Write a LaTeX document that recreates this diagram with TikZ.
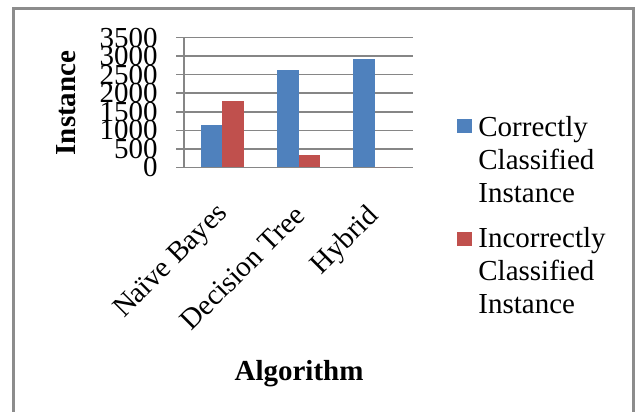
\documentclass[tikz,border=0pt]{standalone}
\usepackage{fontspec}
\setmainfont{Liberation Serif}
\usepackage{tikz}
\usetikzlibrary{positioning, calc}
\definecolor{barblue}{RGB}{79,129,189}
\definecolor{barred}{RGB}{192,80,77}
\definecolor{gridgray}{RGB}{134,134,134}
\definecolor{framegray}{RGB}{140,140,140}

\begin{document}
\begin{tikzpicture}
    [
        x=0.5pt, y=-0.5pt,
        every node/.style={inner sep=0pt, font=\fontsize{14.5}{16.5}\selectfont},
        grid_line/.style={draw=gridgray, line width=0.75pt},
        frame_line/.style={draw=framegray, line width=1.5pt},
        tick_label/.style={anchor=east},
        cat_label/.style={anchor=east, rotate=45},
        title_label/.style={font=\fontsize{14.5}{16.5}\selectfont\bfseries},
        blue_bar/.style={fill=barblue},
        red_bar/.style={fill=barred},
        legend_text/.style={anchor=base west, align=left},
    ]
  \useasboundingbox (0,0) rectangle (638,412);

  \draw[frame_line] (13.5,412) -- (13.5,8) -- (633,8) -- (633,412);

  \foreach \v [count=\i] in {0,500,...,3500} {
    \draw[grid_line] (176,{167.3-\v*0.03703}) -- (413,{167.3-\v*0.03703});
    \node[tick_label] (tick\i) at (158,{167.3-\v*0.03703}) {\v};
  }
  \draw[grid_line] (184,37.7) -- (184,167.3);

  \foreach \c/\vb/\vr in {222.2/1140/1790, 298.5/2630/325, 374.8/2930/0} {
    \fill[blue_bar] ({\c-21.5},167.3) rectangle (\c,{167.3-\vb*0.03703});
    \fill[red_bar] (\c,167.3) rectangle ({\c+21.5},{167.3-\vr*0.03703});
  }

  \node[cat_label] (nb) at (224,210) {Naïve Bayes};
  \node[cat_label] (dt) at (300,210) {Decision Tree};
  \node[cat_label] (hy) at (375,212) {Hybrid};

  \node[title_label, rotate=90] (ytitle) at (66,103) {Instance};
  \node[title_label, anchor=base] (xtitle) at (299,380) {Algorithm};

  \fill[blue_bar] (457,119) rectangle (472,133);
  \node[legend_text] (correct) at (478,202) {Correctly\\Classified\\Instance};
  \fill[red_bar] (457,232) rectangle (472,246);
  \node[legend_text] (incorrect) at (478,313) {Incorrectly\\Classified\\Instance};
\end{tikzpicture}
\end{document}
